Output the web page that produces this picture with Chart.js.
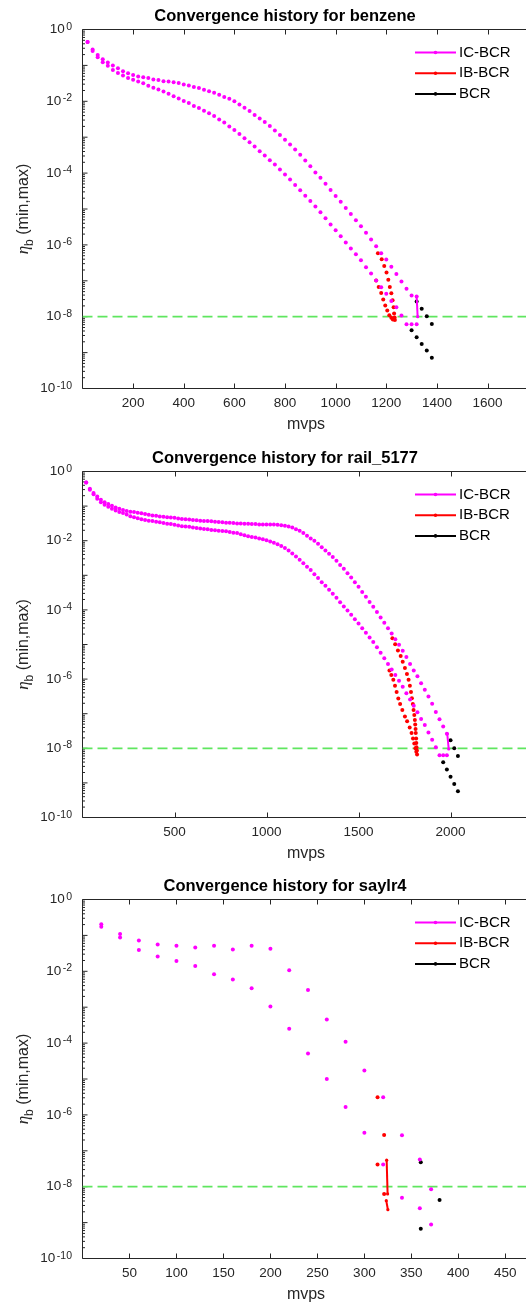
<!DOCTYPE html>
<html>
<head>
<meta charset="utf-8">
<script src="https://cdn.jsdelivr.net/npm/chart.js@4.4.1/dist/chart.umd.min.js"></script>
<style>
  html, body { margin: 0; padding: 0; background: #fff; }
  body { width: 530px; height: 1304px; position: relative; overflow: hidden; }
  canvas { position: absolute; left: 0; }
</style>
</head>
<body>
<canvas id="benzene" width="530" height="443" style="top:0px"></canvas>
<canvas id="rail" width="530" height="427" style="top:443px"></canvas>
<canvas id="saylr" width="530" height="434" style="top:870px"></canvas>
<script>
// eta_b values are stored as log10(eta_b)

// ---- benzene ----
const benzeneMvps = [
  20, 40, 60, 80, 100, 120, 140, 160, 180, 200,
  220, 240, 260, 280, 300, 320, 340, 360, 380, 400,
  420, 440, 460, 480, 500, 520, 540, 560, 580, 600,
  620, 640, 660, 680, 700, 720, 740, 760, 780, 800,
  820, 840, 860, 880, 900, 920, 940, 960, 980, 1000,
  1020, 1040, 1060, 1080, 1100, 1120, 1140, 1160, 1180, 1200,
  1220, 1240, 1260, 1280, 1300, 1320
];
const benzeneIcMax = [
  -0.35, -0.56, -0.71, -0.83, -0.92, -1.00, -1.08, -1.16, -1.22, -1.27,
  -1.31, -1.33, -1.35, -1.39, -1.41, -1.44, -1.45, -1.47, -1.49, -1.53,
  -1.56, -1.60, -1.63, -1.68, -1.72, -1.76, -1.82, -1.88, -1.93, -2.00,
  -2.09, -2.18, -2.27, -2.38, -2.48, -2.58, -2.69, -2.81, -2.94, -3.07,
  -3.20, -3.34, -3.49, -3.65, -3.81, -3.98, -4.13, -4.30, -4.47, -4.64,
  -4.80, -4.97, -5.14, -5.31, -5.48, -5.66, -5.85, -6.04, -6.23, -6.41,
  -6.61, -6.81, -7.02, -7.22, -7.41, -7.44
];
const benzeneIcMin = [
  -0.35, -0.60, -0.77, -0.91, -1.01, -1.13, -1.21, -1.28, -1.35, -1.40,
  -1.45, -1.50, -1.57, -1.62, -1.67, -1.73, -1.79, -1.86, -1.92, -1.99,
  -2.05, -2.13, -2.19, -2.26, -2.33, -2.41, -2.51, -2.59, -2.70, -2.80,
  -2.91, -3.03, -3.14, -3.26, -3.39, -3.51, -3.64, -3.76, -3.90, -4.04,
  -4.18, -4.33, -4.48, -4.63, -4.78, -4.93, -5.09, -5.26, -5.43, -5.59,
  -5.76, -5.93, -6.10, -6.26, -6.43, -6.62, -6.80, -6.99, -7.18, -7.36,
  -7.56, -7.74, -7.97, -8.21, -8.21, -8.21
];
const benzeneIcStep = [[1320, -7.44], [1324, -8.00]];
const benzeneIbMax = [[1167, -6.23], [1182, -6.40], [1192, -6.59], [1201, -6.77], [1208, -6.97], [1214, -7.17],
  [1220, -7.35], [1225, -7.54], [1229, -7.74], [1231, -7.91], [1233, -8.02], [1234, -8.09]];
const benzeneIbMin = [[1160, -6.99], [1170, -7.17], [1180, -7.34], [1188, -7.52], [1196, -7.69], [1204, -7.83],
  [1212, -7.96], [1220, -8.03], [1226, -8.08]];
const benzeneBcrMax = [[1320, -7.58], [1340, -7.78], [1360, -7.99], [1380, -8.20]];
const benzeneBcrMin = [[1300, -8.38], [1320, -8.57], [1340, -8.76], [1360, -8.94], [1380, -9.14]];
const benzeneTicks = [200, 400, 600, 800, 1000, 1200, 1400, 1600];

// ---- rail_5177 ----
const railMvps = [
  20, 40, 60, 80, 100, 120, 140, 160, 180, 200,
  220, 240, 260, 280, 300, 320, 340, 360, 380, 400,
  420, 440, 460, 480, 500, 520, 540, 560, 580, 600,
  620, 640, 660, 680, 700, 720, 740, 760, 780, 800,
  820, 840, 860, 880, 900, 920, 940, 960, 980, 1000,
  1020, 1040, 1060, 1080, 1100, 1120, 1140, 1160, 1180, 1200,
  1220, 1240, 1260, 1280, 1300, 1320, 1340, 1360, 1380, 1400,
  1420, 1440, 1460, 1480, 1500, 1520, 1540, 1560, 1580, 1600,
  1620, 1640, 1660, 1680, 1700, 1720, 1740, 1760, 1780, 1800,
  1820, 1840, 1860, 1880, 1900, 1920, 1940, 1960, 1980
];
const railIcMax = [
  -0.32, -0.50, -0.62, -0.72, -0.82, -0.89, -0.94, -0.99, -1.04, -1.08,
  -1.11, -1.14, -1.16, -1.17, -1.19, -1.21, -1.23, -1.25, -1.27, -1.28,
  -1.30, -1.31, -1.32, -1.33, -1.34, -1.36, -1.37, -1.38, -1.39, -1.40,
  -1.41, -1.42, -1.43, -1.43, -1.44, -1.45, -1.46, -1.47, -1.48, -1.48,
  -1.49, -1.50, -1.50, -1.51, -1.51, -1.52, -1.52, -1.53, -1.53, -1.53,
  -1.53, -1.53, -1.54, -1.55, -1.57, -1.59, -1.62, -1.67, -1.71, -1.78,
  -1.86, -1.94, -2.00, -2.09, -2.19, -2.28, -2.38, -2.47, -2.58, -2.70,
  -2.81, -2.94, -3.06, -3.20, -3.33, -3.48, -3.62, -3.77, -3.91, -4.06,
  -4.22, -4.37, -4.53, -4.68, -4.85, -5.01, -5.18, -5.36, -5.56, -5.75,
  -5.92, -6.12, -6.31, -6.50, -6.71, -6.95, -7.16, -7.37, -7.58
];
const railIcMin = [
  -0.32, -0.53, -0.66, -0.79, -0.89, -0.96, -1.02, -1.08, -1.13, -1.17,
  -1.20, -1.24, -1.29, -1.32, -1.35, -1.38, -1.40, -1.42, -1.43, -1.45,
  -1.47, -1.49, -1.51, -1.52, -1.54, -1.56, -1.58, -1.59, -1.60, -1.62,
  -1.63, -1.65, -1.66, -1.67, -1.69, -1.70, -1.71, -1.72, -1.73, -1.75,
  -1.77, -1.78, -1.81, -1.84, -1.87, -1.89, -1.91, -1.94, -1.96, -1.99,
  -2.02, -2.06, -2.10, -2.15, -2.21, -2.28, -2.37, -2.46, -2.55, -2.65,
  -2.75, -2.85, -2.97, -3.08, -3.20, -3.30, -3.42, -3.53, -3.65, -3.78,
  -3.90, -4.02, -4.14, -4.27, -4.39, -4.53, -4.66, -4.80, -4.93, -5.08,
  -5.24, -5.40, -5.56, -5.72, -5.88, -6.05, -6.22, -6.41, -6.59, -6.77,
  -6.96, -7.15, -7.33, -7.54, -7.75, -7.97, -8.20, -8.20, -8.20
];
const railIcStep = [[1982, -7.58], [1990, -8.02]];
const railIbMax = [[1684, -4.82], [1699, -4.99], [1714, -5.17], [1729, -5.33], [1740, -5.50], [1752, -5.68],
  [1763, -5.85], [1772, -6.02], [1779, -6.19], [1785, -6.37], [1790, -6.55], [1795, -6.72], [1799, -6.89],
  [1803, -7.04], [1806, -7.18], [1808, -7.31], [1810, -7.44], [1811, -7.56], [1813, -7.72], [1814, -7.85],
  [1815, -7.97], [1817, -8.06]];
const railIbMin = [[1668, -5.75], [1678, -5.88], [1689, -6.02], [1698, -6.19], [1707, -6.37], [1716, -6.56],
  [1726, -6.72], [1738, -6.89], [1752, -7.08], [1764, -7.22], [1778, -7.40], [1788, -7.56], [1796, -7.72],
  [1803, -7.86], [1809, -8.00], [1814, -8.10], [1818, -8.18]];
const railBcrMax = [[2000, -7.77], [2020, -8.00], [2040, -8.22]];
const railBcrMin = [[1960, -8.40], [1980, -8.61], [2000, -8.82], [2020, -9.03], [2040, -9.24]];
const railTicks = [500, 1000, 1500, 2000];

// ---- saylr4 ----
const saylrMvps = [20, 40, 60, 80, 100, 120, 140, 160, 180, 200, 220, 240, 260, 280, 300, 320, 340, 359, 371];
const saylrIcMax = [-0.69, -0.96, -1.14, -1.25, -1.29, -1.34, -1.29, -1.39, -1.29, -1.37,
  -1.97, -2.52, -3.34, -3.96, -4.76, -5.51, -6.57, -7.24, -8.07];
const saylrIcMin = [-0.76, -1.06, -1.41, -1.59, -1.71, -1.85, -2.08, -2.23, -2.47, -2.98,
  -3.60, -4.29, -5.00, -5.78, -6.50, -7.38, -8.31, -8.60, -9.05];
const saylrIbMax = [[314, -5.51], [321, -6.56]];
const saylrIbMin = [[314, -7.38], [321, -8.20]];
const saylrIbMaxStep = [[323.7, -7.26], [324.7, -8.20]];
const saylrIbMinStep = [[323.3, -8.39], [325, -8.64]];
const saylrBcrMax = [[360, -7.32], [380, -8.37]];
const saylrBcrMin = [[360, -9.17]];
const saylrTicks = [50, 100, 150, 200, 250, 300, 350, 400, 450];

const tolerance = 1e-8;

const FONT = '"Liberation Sans", Arial, Helvetica, sans-serif';
const AXIS = '#262626';
const MAGENTA = '#ff00ff';
const RED = '#ff0000';
const BLACK = '#000000';
const GREEN = '#5fe65f';

function fromSeries(xs, logs) {
  return xs.map((x, i) => ({ x: x, y: Math.pow(10, logs[i]) }));
}
function fromPairs(list) {
  return list.map(p => ({ x: p[0], y: Math.pow(10, p[1]) }));
}

function dots(data, color) {
  return { data: data, showLine: false, pointRadius: 2, pointBorderWidth: 0,
    pointBackgroundColor: color, backgroundColor: color, borderColor: color };
}
function step(data, color) {
  return { data: data, showLine: true, borderWidth: 2, borderColor: color,
    pointRadius: 1.6, pointBorderWidth: 0, pointBackgroundColor: color };
}

// axes box, ticks and all the text (MATLAB look)
const frame = {
  id: 'frame',
  beforeDatasetsDraw(chart, args, o) {
    const ctx = chart.ctx, a = chart.chartArea, x = chart.scales.x, y = chart.scales.y;
    ctx.save();
    ctx.strokeStyle = AXIS;
    ctx.lineWidth = 1;
    ctx.beginPath();
    ctx.moveTo(a.left, a.top); ctx.lineTo(a.right, a.top);
    ctx.moveTo(a.left, a.bottom); ctx.lineTo(a.right, a.bottom);
    ctx.moveTo(a.left, a.top); ctx.lineTo(a.left, a.bottom);
    o.xTicks.forEach(v => {
      const px = Math.round(x.getPixelForValue(v)) + 0.5;
      ctx.moveTo(px, a.bottom); ctx.lineTo(px, a.bottom - 5);
      ctx.moveTo(px, a.top); ctx.lineTo(px, a.top + 5);
    });
    for (let e = -10; e <= 0; e++) {
      const py = y.getPixelForValue(Math.pow(10, e));
      ctx.moveTo(a.left, py); ctx.lineTo(a.left + 5, py);
      if (e < 0) {
        for (let m = 2; m <= 9; m++) {
          const pm = y.getPixelForValue(m * Math.pow(10, e));
          ctx.moveTo(a.left, pm); ctx.lineTo(a.left + 2.5, pm);
        }
      }
    }
    ctx.stroke();
    ctx.restore();
  },
  afterDraw(chart, args, o) {
    const ctx = chart.ctx, a = chart.chartArea, x = chart.scales.x, y = chart.scales.y;
    ctx.save();
    // x tick labels
    ctx.fillStyle = AXIS;
    ctx.font = '13.5px ' + FONT;
    ctx.textAlign = 'center';
    ctx.textBaseline = 'middle';
    o.xTicks.forEach(v => ctx.fillText(String(v), x.getPixelForValue(v), a.bottom + 15));
    // y tick labels 10^k
    for (let e = -10; e <= 0; e += 2) {
      const py = y.getPixelForValue(Math.pow(10, e));
      const ex = e === 0 ? '0' : '-' + (-e);
      ctx.font = '10.5px ' + FONT;
      const we = ctx.measureText(ex).width;
      ctx.font = '13.5px ' + FONT;
      const wb = ctx.measureText('10').width;
      const right = 72;
      ctx.textAlign = 'left';
      ctx.textBaseline = 'middle';
      ctx.fillText('10', right - we - wb - 1.5, py);
      ctx.font = '10.5px ' + FONT;
      ctx.textBaseline = 'alphabetic';
      ctx.fillText(ex, right - we, py);
    }
    // x label
    ctx.fillStyle = AXIS;
    ctx.font = '16px ' + FONT;
    ctx.textAlign = 'center';
    ctx.textBaseline = 'alphabetic';
    ctx.fillText('mvps', 306, a.bottom + 40);
    // y label: eta_b (min,max)
    ctx.save();
    ctx.translate(28, (a.top + a.bottom) / 2);
    ctx.rotate(-Math.PI / 2);
    const fEta = 'italic 17px "Liberation Serif", serif';
    const fSub = '12px ' + FONT;
    const fRest = '16px ' + FONT;
    ctx.font = fEta; const w1 = ctx.measureText('\u03b7').width;
    ctx.font = fSub; const w2 = ctx.measureText('b').width;
    ctx.font = fRest; const w3 = ctx.measureText(' (min,max)').width;
    let sx = -(w1 + w2 + w3) / 2;
    ctx.textAlign = 'left';
    ctx.font = fEta; ctx.fillText('\u03b7', sx, 0); sx += w1;
    ctx.font = fSub; ctx.fillText('b', sx, 4.5); sx += w2;
    ctx.font = fRest; ctx.fillText(' (min,max)', sx, 0);
    ctx.restore();
    // title
    ctx.fillStyle = '#000';
    ctx.font = 'bold 16.5px ' + FONT;
    ctx.textAlign = 'center';
    ctx.textBaseline = 'middle';
    ctx.fillText(o.title, 285, a.top - 13.5);
    // legend
    const items = [['IC-BCR', MAGENTA], ['IB-BCR', RED], ['BCR', BLACK]];
    items.forEach((it, i) => {
      const ly = a.top + 23 + i * 20.7;
      ctx.strokeStyle = it[1];
      ctx.lineWidth = 2;
      ctx.beginPath();
      ctx.moveTo(415, ly); ctx.lineTo(456, ly);
      ctx.stroke();
      ctx.fillStyle = it[1];
      ctx.beginPath();
      ctx.arc(435.5, ly, 1.8, 0, Math.PI * 2);
      ctx.fill();
      ctx.fillStyle = '#000';
      ctx.font = '15px ' + FONT;
      ctx.textAlign = 'left';
      ctx.textBaseline = 'middle';
      ctx.fillText(it[0], 459, ly);
    });
    ctx.restore();
  }
};

function makePlot(id, title, xMax, xTicks, areaTop, areaBottom, datasets) {
  const canvas = document.getElementById(id);
  const h = canvas.height;
  datasets.push({
    data: [{ x: 0, y: tolerance }, { x: xMax, y: tolerance }],
    showLine: true, borderColor: GREEN, borderWidth: 1.7, borderDash: [10, 5], pointRadius: 0
  });
  return new Chart(canvas.getContext('2d'), {
    type: 'scatter',
    data: { datasets: datasets },
    options: {
      responsive: false,
      animation: false,
      events: [],
      layout: { padding: { top: areaTop, left: 0, right: 0, bottom: 0 } },
      plugins: {
        legend: { display: false },
        tooltip: { enabled: false },
        frame: { title: title, xTicks: xTicks }
      },
      scales: {
        x: {
          type: 'linear', min: 0, max: xMax,
          grid: { display: false }, border: { display: false }, ticks: { display: false },
          afterFit: s => { s.height = h - areaBottom; }
        },
        y: {
          type: 'logarithmic', min: 1e-10, max: 1,
          grid: { display: false }, border: { display: false }, ticks: { display: false },
          afterFit: s => { s.width = 82.5; }
        }
      }
    },
    plugins: [frame]
  });
}

// first dataset is drawn on top in Chart.js, so IC-BCR goes first
makePlot('benzene', 'Convergence history for benzene', 1752, benzeneTicks, 29.5, 388.5, [
  dots(fromSeries(benzeneMvps, benzeneIcMax), MAGENTA),
  dots(fromSeries(benzeneMvps, benzeneIcMin), MAGENTA),
  step(fromPairs(benzeneIcStep), MAGENTA),
  dots(fromPairs(benzeneIbMax), RED),
  dots(fromPairs(benzeneIbMin), RED),
  dots(fromPairs(benzeneBcrMax), BLACK),
  dots(fromPairs(benzeneBcrMin), BLACK)
]);

makePlot('rail', 'Convergence history for rail_5177', 2410, railTicks, 28.5, 374.5, [
  dots(fromSeries(railMvps, railIcMax), MAGENTA),
  dots(fromSeries(railMvps, railIcMin), MAGENTA),
  step(fromPairs(railIcStep), MAGENTA),
  dots(fromPairs(railIbMax), RED),
  dots(fromPairs(railIbMin), RED),
  dots(fromPairs(railBcrMax), BLACK),
  dots(fromPairs(railBcrMin), BLACK)
]);

makePlot('saylr', 'Convergence history for saylr4', 472, saylrTicks, 29.5, 388.5, [
  dots(fromSeries(saylrMvps, saylrIcMax), MAGENTA),
  dots(fromSeries(saylrMvps, saylrIcMin), MAGENTA),
  dots(fromPairs(saylrIbMax), RED),
  dots(fromPairs(saylrIbMin), RED),
  step(fromPairs(saylrIbMaxStep), RED),
  step(fromPairs(saylrIbMinStep), RED),
  dots(fromPairs(saylrBcrMax), BLACK),
  dots(fromPairs(saylrBcrMin), BLACK)
]);
</script>
</body>
</html>
